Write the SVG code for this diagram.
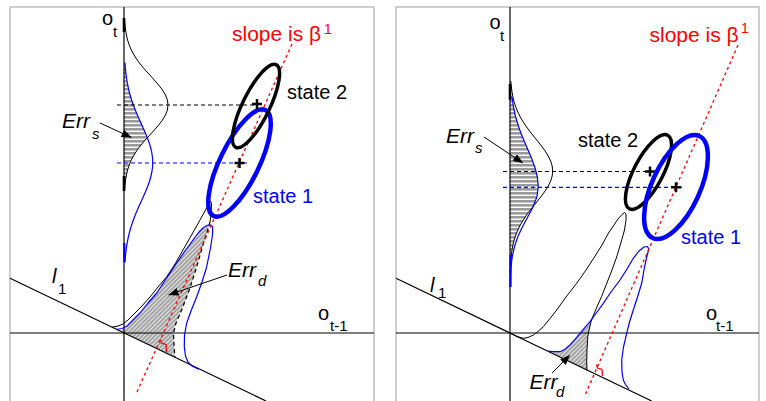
<svg xmlns="http://www.w3.org/2000/svg" width="766" height="401" viewBox="0 0 766 401">
<defs>
<style>
.frame{fill:none;stroke:#c4c4c4;stroke-width:1.6}
.axis{fill:none;stroke:#000;stroke-width:1.2}
.tail{fill:none;stroke:#000;stroke-width:2.6}
.btail{fill:none;stroke:#0000ff;stroke-width:2.2}
.bcurve{fill:none;stroke:#0000ff;stroke-width:1.2;stroke-linejoin:round}
.kcurve{fill:none;stroke:#000;stroke-width:1;stroke-linejoin:round}
.kdash{fill:none;stroke:#000;stroke-width:1.2;stroke-dasharray:4 3}
.bdash{fill:none;stroke:#0000ff;stroke-width:1.2;stroke-dasharray:4 3}
.red{fill:none;stroke:#ff0000;stroke-width:1.3;stroke-dasharray:3 3}
.redm{fill:none;stroke:#ff0000;stroke-width:1.3}
.ell-k{fill:none;stroke:#000;stroke-width:3.5}
.ell-b{fill:none;stroke:#0000ff;stroke-width:4.5}
.plus{stroke:#000;stroke-width:2.5;fill:none}
.arrow{stroke:#000;stroke-width:1;fill:none;marker-end:url(#ah)}
.hs{fill:url(#hs);stroke:none}
.hd{fill:url(#hd);stroke:none}
text{font-family:"Liberation Sans",Arial,sans-serif;fill:#000}
.lbl{font-size:20px}
.big{font-size:21px}
.sub{font-size:15px}
.sup{font-size:14px}
.it{font-style:italic}
.r{fill:#ff0000}
.b{fill:#0000ff}
</style>
<pattern id="hs" patternUnits="userSpaceOnUse" width="4" height="4"><rect width="4" height="4" fill="#9a9a9a"/><rect y="2.6" width="4" height="1.4" fill="#ffffff"/></pattern>
<pattern id="hd" patternUnits="userSpaceOnUse" width="3" height="3" patternTransform="rotate(45)"><rect width="3" height="3" fill="#a4a4a4"/><rect width="1" height="3" fill="#e6e6e6"/></pattern>
<marker id="ah" viewBox="0 0 10 8" refX="10" refY="4" markerWidth="10" markerHeight="8" markerUnits="userSpaceOnUse" orient="auto"><path d="M0,0 L10,4 L0,8 z" fill="#000"/></marker>
</defs>
<rect width="766" height="401" fill="#fff"/>

<g id="panel-left">
  <rect class="frame" x="10" y="7" width="364" height="400"/>
  <g id="left-err-s">
    <polygon class="hs" points="124,62.5 124.9,62.5 125.75,72.5 127.16,82.5 129.32,92.5 132.34,102.5 136.2,112.5 140.67,122.5 145.24,132.5 147.4,137.5 145.2,140 141,145 137.2,150 134,155 131.3,160 129.2,165 127.6,170 126.4,175 125.6,180 125,185 124.6,190 124,190"/>
  </g>
  <g id="left-err-d">
    <polygon class="hd" points="121,331.5 127,326 133,320 140,313 148,303 156.7,293 166,279 176.7,263 185,251 193,240 199,232 203,228 207,225.5 209,226 208,229 203,245 196.7,266.7 190,288 181.7,310 176,323 173.5,333 174,345 175,357.5 124,333"/>
  </g>
  <g id="left-axes">
    <line class="axis" x1="124" y1="7" x2="124" y2="401"/>
    <line class="axis" x1="10" y1="333" x2="374" y2="333"/>
    <line class="axis" x1="10" y1="278.3" x2="266" y2="401"/>
    <line class="tail" x1="124" y1="18" x2="124" y2="32"/>
    <line class="tail" x1="124" y1="176" x2="124" y2="191"/>
  </g>
  <g id="left-densities">
    <polyline class="kcurve" points="124.6,20 125,25 125.6,30 126.4,35 127.6,40 129.2,45 131.3,50 134,55 137.2,60 141,65 145.2,70 149.8,75 154.3,80 158.7,85 162.5,90 165.5,95 167.4,100 168,105 167.4,110 165.5,115 162.5,120 158.7,125 154.3,130 149.8,135 145.2,140 141,145 137.2,150 134,155 131.3,160 129.2,165 127.6,170 126.4,175 125.6,180 125,185 124.6,190"/>
    <path class="bcurve" d="M124.9,62.5 L125.33,67.5 Q125.75,72.5 126.46,77.5 Q127.16,82.5 128.24,87.5 Q129.32,92.5 130.83,97.5 Q132.34,102.5 134.27,107.5 Q136.2,112.5 138.44,117.5 Q140.67,122.5 142.96,127.5 Q145.24,132.5 147.25,137.5 Q149.25,142.5 150.63,147.5 Q152,152.5 152.5,157.5 Q153,162.5 152.5,167.5 Q152,172.5 150.63,177.5 Q149.25,182.5 147.25,187.5 Q145.24,192.5 142.96,197.5 Q140.67,202.5 138.44,207.5 Q136.2,212.5 134.27,217.5 Q132.34,222.5 130.83,227.5 Q129.32,232.5 128.24,237.5 Q127.16,242.5 126.46,247.5 Q125.75,252.5 125.33,257.5 L124.9,262.5"/>
    <line class="btail" x1="124.3" y1="243" x2="124.3" y2="262"/>
    <polyline class="kcurve" points="112,327.2 118,326 123,324 128,320 133,315 141,307 150,297 158,287 166.7,276.7 175,264 183,250 191,236 200,220 205,211 208,205 210.5,201 211.5,204 211,215 210,222"/>
    <polyline class="kdash" points="210,222 208,229 203,245 196.7,266.7 190,288 181.7,310 176,323 173.5,333 174,345 175,357.5"/>
    <polyline class="bcurve" points="116,329.5 122,328.5 127,326 133,320 140,313 148,303 156.7,293 166,279 176.7,263 185,251 193,240 199,232 203,228 207,225.5 210,224.8 212.7,226.7 212.5,235 210.5,248 206.7,266.7 202,282 196.7,296.7 191,311 186.7,323 184.5,335 184.3,346.7 185.5,356 188,362 192,366 198.5,369.3"/>
  </g>
  <g id="left-guides">
    <line class="kdash" x1="117" y1="105" x2="258" y2="105"/>
    <line class="bdash" x1="117" y1="163" x2="247" y2="163"/>
    <line class="red" x1="292" y1="44" x2="137" y2="392"/>
    <polyline class="redm" points="160.5,339.5 161.5,343 166,344.5 166.5,352"/>
  </g>
  <g id="left-state1">
    <ellipse class="ell-b" cx="239.5" cy="163" rx="59" ry="19.5" transform="rotate(-64 239.5 163)"/>
    <path class="plus" d="M234.5,163 H244.5 M239.5,158 V168"/>
  </g>
  <g id="left-state2">
    <ellipse class="ell-k" cx="256" cy="106" rx="46" ry="13.5" transform="rotate(-64 256 106)"/>
    <path class="plus" d="M252,104 H262 M257,99 V109"/>
  </g>
  <g id="left-arrows">
    <line class="arrow" x1="100" y1="123" x2="131.5" y2="137.5"/>
    <line class="arrow" x1="227" y1="275" x2="168.5" y2="295"/>
  </g>
  <g id="left-labels">
    <text class="lbl" x="102" y="25">o</text>
    <text class="sub" x="113" y="37">t</text>
    <text class="big r" x="232" y="41">slope is β</text>
    <text class="sup r" x="324" y="34">1</text>
    <text class="lbl" x="287" y="99">state 2</text>
    <text class="lbl b" x="253" y="203">state 1</text>
    <text class="big it" x="62" y="128">Err</text>
    <text class="sub it" x="92" y="139">s</text>
    <text class="big it" x="228" y="277">Err</text>
    <text class="sub it" x="258" y="286">d</text>
    <text class="lbl it" x="52" y="283">l</text>
    <text class="sub" x="58" y="294">1</text>
    <text class="lbl" x="318" y="320">o</text>
    <text class="sub" x="330" y="331">t-1</text>
  </g>
</g>

<g id="panel-right">
  <rect class="frame" x="396" y="7" width="363" height="400"/>
  <g id="right-err-s">
    <polygon class="hs" points="510,97 511.97,97 513.45,107 515.65,117 518.67,127 522.44,137 526.73,147 531.05,157 534.81,167 537.39,177 538.3,187 536.87,197 533.5,206 529.55,211 525.88,216 522.6,221 519.75,226 517.36,231 515.42,236 513.9,241 512.74,246 511.87,251 511.25,256 510.8,261 510,261"/>
  </g>
  <g id="right-err-d">
    <polygon class="hd" points="548,351.2 553,351.6 560,351.7 565,349.3 570,345 575,339.3 580,333.3 585,327.3 591,321 589,330 587.8,336.7 587,350 586.7,362 587,370.5"/>
  </g>
  <g id="right-axes">
    <line class="axis" x1="510" y1="7" x2="510" y2="401"/>
    <line class="axis" x1="396" y1="333" x2="759" y2="333"/>
    <line class="axis" x1="396" y1="278.3" x2="651.7" y2="401"/>
    <line class="tail" x1="510" y1="84" x2="510" y2="100"/>
  </g>
  <g id="right-densities">
    <polyline class="kcurve" points="510.8,81 511.25,86 511.87,91 512.74,96 513.9,101 515.42,106 517.36,111 519.75,116 522.6,121 525.88,126 529.55,131 533.48,136 537.52,141 541.47,146 545.12,151 548.26,156 550.66,161 552.18,166 552.7,171 552.18,176 550.66,181 548.26,186 545.12,191 541.47,196 537.52,201 533.48,206 529.55,211 525.88,216 522.6,221 519.75,226 517.36,231 515.42,236 513.9,241 512.74,246 511.87,251 511.25,256 510.8,261"/>
    <polyline class="bcurve" points="510.7,97 511.97,97 513.45,107 515.65,117 518.67,127 522.44,137 526.73,147 531.05,157 534.81,167 537.39,177 538.3,187 536.87,197 532.98,207 527.72,217 522.31,227 517.71,237 514.35,247 512.21,257 511.01,267 510.42,277 510.15,287"/>
    <line class="btail" x1="510.5" y1="255" x2="510.5" y2="287"/>
    <polyline class="kcurve" points="510,333 517,336.5 523.3,338.3 528,337.5 533.3,335 538,331.5 543.3,326.7 550,318.5 556.7,310 566,297 576.7,283.3 586,270 594.5,257 602,245 608.5,233 614,225 618,219 622,214.5 624.5,212.5 626,214 626,220 624.5,230 621.7,240 617,256 612,270 606.5,284 601.5,296.7 596,309 591.5,320 589,330 587.8,336.7 587,350 586.7,362 587,370.5"/>
    <polyline class="bcurve" points="548,351.2 553,351.6 560,351.7 565,349.3 570,345 575,339.3 580,333.3 585,327.3 590,321.7 596.3,313 603.3,303.3 611,292 620,280 627,269 633.3,258.3 639,251 644,247 647.5,246.5 648.8,249 647,256 644.5,267 641.7,283.3 637.5,297 633.3,310 629.5,322 626.7,333.3 623.5,347 621.7,360 622,372 623.3,380 625.5,384.5 629,389"/>
  </g>
  <g id="right-guides">
    <line class="kdash" x1="503" y1="171.5" x2="651" y2="171.5"/>
    <line class="bdash" x1="503" y1="187.3" x2="683" y2="187.3"/>
    <line class="red" x1="738" y1="45" x2="585.5" y2="394"/>
    <polyline class="redm" points="596.5,364.5 597.5,368 602,369.5 602.5,376"/>
  </g>
  <g id="right-state2">
    <ellipse class="ell-k" cx="648.5" cy="172" rx="41.5" ry="14.5" transform="rotate(-62.5 648.5 172)"/>
    <path class="plus" d="M645,171.5 H655 M650,166.5 V176.5"/>
  </g>
  <g id="right-state1">
    <ellipse class="ell-b" cx="676" cy="187" rx="56" ry="24" transform="rotate(-65.5 676 187)"/>
    <path class="plus" d="M671,187.3 H681 M676,182.3 V192.3"/>
  </g>
  <g id="right-arrows">
    <line class="arrow" x1="484" y1="137" x2="523" y2="163"/>
    <line class="arrow" x1="552" y1="373" x2="570" y2="355"/>
  </g>
  <g id="right-labels">
    <text class="lbl" x="489.5" y="29">o</text>
    <text class="sub" x="500" y="40.5">t</text>
    <text class="big r" x="649.5" y="42">slope is β</text>
    <text class="sup r" x="741" y="33">1</text>
    <text class="lbl" x="578" y="147">state 2</text>
    <text class="lbl b" x="681" y="244">state 1</text>
    <text class="big it" x="529.5" y="389">Err</text>
    <text class="sub it" x="556" y="396.5">d</text>
    <text class="big it" x="446" y="143">Err</text>
    <text class="sub it" x="475" y="153">s</text>
    <text class="lbl it" x="430" y="291.5">l</text>
    <text class="sub" x="438" y="298">1</text>
    <text class="lbl" x="706" y="320">o</text>
    <text class="sub" x="716" y="331">t-1</text>
  </g>
</g>
</svg>
